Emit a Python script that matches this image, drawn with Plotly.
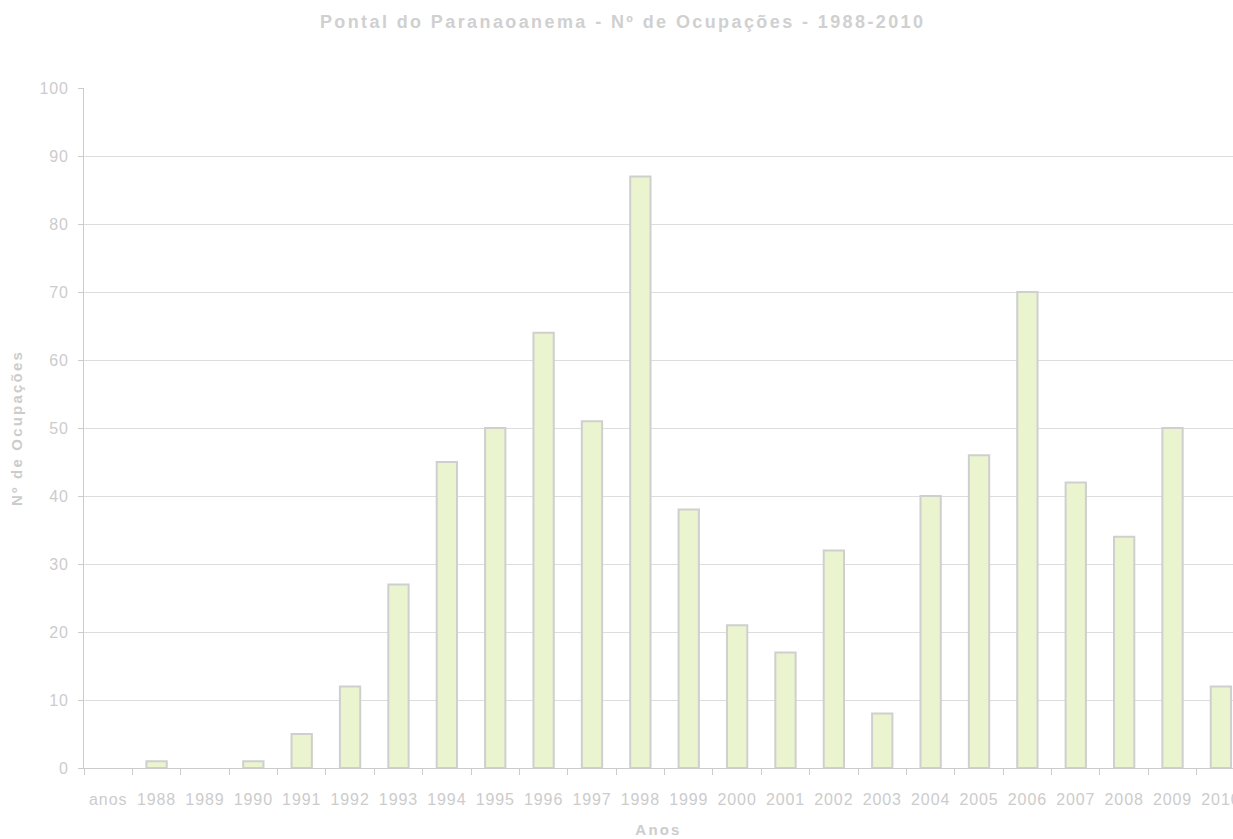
import plotly.graph_objects as go

categories = ["anos", "1988", "1989", "1990", "1991", "1992", "1993", "1994", "1995",
              "1996", "1997", "1998", "1999", "2000", "2001", "2002", "2003", "2004",
              "2005", "2006", "2007", "2008", "2009", "2010"]
ocupacoes = [0, 1, 0, 1, 5, 12, 27, 45, 50, 64, 51, 87, 38, 21, 17, 32, 8, 40,
             46, 70, 42, 34, 50, 12]
y_ticks = [0, 10, 20, 30, 40, 50, 60, 70, 80, 90, 100]
grid_vals = [10, 20, 30, 40, 50, 60, 70, 80, 90]

title_text = "Pontal do Paranaoanema - Nº de Ocupações - 1988-2010"
x_title = "Anos"
y_title = "Nº de Ocupações"

FONT = "Liberation Sans, Arial, sans-serif"
GRAY = "#cccccc"

# zero-height bars show no outline
outline_widths = [2 if v > 0 else 0 for v in ocupacoes]

fig = go.Figure()
fig.add_trace(go.Bar(
    x=categories, y=ocupacoes, width=0.42,
    marker=dict(color="#eaf4cf", line=dict(color="#cfcfcf", width=outline_widths)),
    hoverinfo="x+y",
))
# invisible carrier for the labelled y axis
fig.add_trace(go.Scatter(x=categories, y=ocupacoes, yaxis="y2", mode="none",
                         showlegend=False, hoverinfo="skip"))

fig.update_layout(
    width=1233, height=839,
    paper_bgcolor="white", plot_bgcolor="white",
    margin=dict(l=84, r=0, t=88, b=71, autoexpand=False),
    showlegend=False,
    font=dict(family=FONT, size=16, color=GRAY),
    title=dict(text="<b>" + title_text + "</b>", x=0.505, xref="container",
               y=1 - 22 / 839, yref="container", yanchor="middle", xanchor="center",
               font=dict(family=FONT, size=18, color="#d0d0d0")),
    xaxis=dict(
        type="category", range=[-0.5, 23.25], automargin=False,
        showline=True, linecolor=GRAY, linewidth=1,
        ticks="outside", tickson="boundaries", ticklen=6, tickcolor=GRAY,
        tickangle=0, showgrid=False, tickfont=dict(size=16, color=GRAY),
        ticklabelstandoff=17,
        title=dict(text="<b>" + x_title + "</b>", font=dict(size=15, color=GRAY), standoff=17),
    ),
    yaxis=dict(
        range=[0, 100], tickmode="array", tickvals=grid_vals, automargin=False,
        showticklabels=False, ticks="", showgrid=True, gridcolor="#dddddd", gridwidth=1,
        zeroline=False, showline=False,
    ),
    yaxis2=dict(
        overlaying="y", side="left", range=[0, 100], tickmode="array", tickvals=y_ticks,
        automargin=False,
        showgrid=False, zeroline=False, showline=True, linecolor=GRAY, linewidth=1,
        ticks="outside", ticklen=5, tickcolor=GRAY, tickfont=dict(size=16, color=GRAY),
        ticklabelstandoff=6,
        title=dict(text="<b>" + y_title + "</b>", font=dict(size=15, color=GRAY), standoff=15),
    ),
)

post = """
document.body.style.margin = '0';
function sp(sel, v){ document.querySelectorAll(sel).forEach(function(t){ t.style.letterSpacing = v; }); }
sp('.xtick text', '0.9px');
sp('.y2tick text', '0.9px');
sp('.gtitle', '2.4px');
sp('.xtitle', '2.2px');
sp('.y2title', '2.2px');
"""

fig.write_html("out.html", post_script=post, config={"displayModeBar": False})
